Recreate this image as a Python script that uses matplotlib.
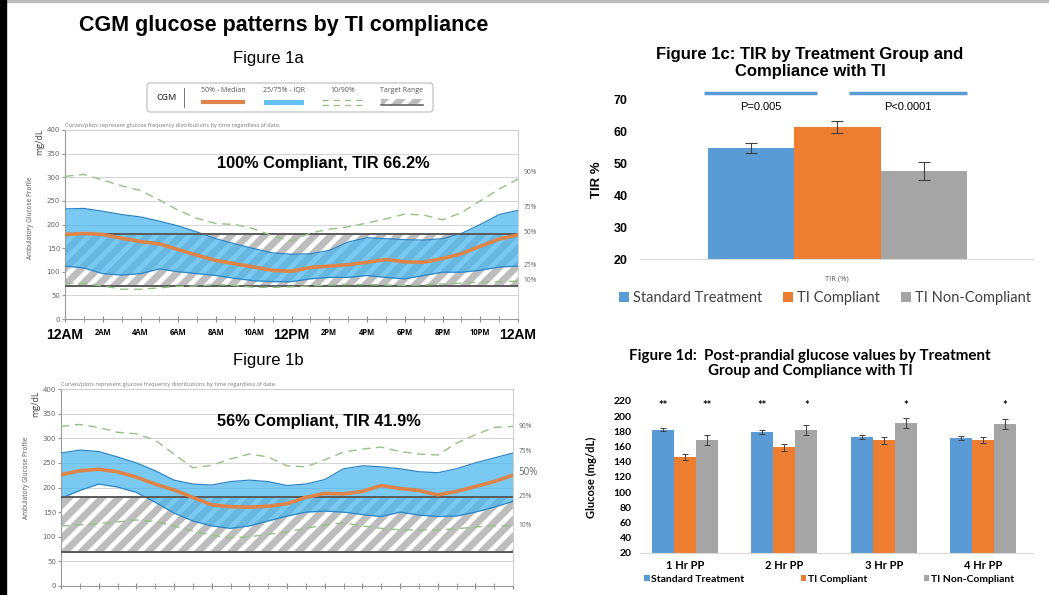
#!/usr/bin/env python3
"""CGM glucose patterns by TI compliance: AGP panels plus two bar charts."""
import matplotlib
matplotlib.use('Agg')
import matplotlib.pyplot as plt
import numpy as np
from matplotlib.patches import FancyBboxPatch, Rectangle
from matplotlib.lines import Line2D

W, H = 1049, 595

# Figure 1a / 1b: hourly percentiles of glucose (mg/dL), midnight to midnight.
hours = np.arange(25)
hour_labels = ['12AM', '2AM', '4AM', '6AM', '8AM', '10AM', '12PM',
               '2PM', '4PM', '6PM', '8PM', '10PM', '12AM']

a_p90 = [302, 306, 294, 282, 272, 252, 230, 213, 202, 200, 191, 176, 165,
         182, 190, 195, 203, 212, 222, 220, 210, 225, 250, 275, 296]
a_p75 = [233, 234, 228, 221, 216, 207, 197, 184, 170, 159, 149, 140, 137,
         138, 145, 163, 172, 170, 168, 167, 170, 181, 200, 221, 230]
a_p50 = [179, 181, 179, 171, 164, 159, 147, 135, 124, 117, 110, 103, 101,
         109, 112, 115, 120, 126, 121, 120, 128, 138, 154, 169, 178]
a_p25 = [112, 108, 96, 93, 96, 106, 100, 96, 92, 86, 81, 79, 79,
         85, 88, 88, 92, 88, 85, 92, 99, 99, 103, 110, 112]
a_p10 = [76, 75, 70, 63, 63, 66, 69, 70, 73, 71, 67, 67, 68,
         70, 72, 73, 73, 72, 71, 72, 74, 76, 78, 79, 80]

b_p90 = [324, 328, 322, 312, 309, 296, 268, 240, 245, 258, 268, 262, 244,
         242, 256, 272, 278, 282, 273, 268, 266, 290, 307, 322, 324]
b_p75 = [270, 276, 273, 262, 250, 234, 215, 207, 205, 212, 215, 212, 204,
         207, 216, 238, 244, 242, 238, 232, 230, 238, 250, 260, 270]
b_p50 = [226, 234, 237, 232, 221, 207, 195, 180, 165, 161, 160, 162, 167,
         180, 188, 187, 192, 204, 198, 194, 185, 192, 202, 212, 225]
b_p25 = [178, 194, 207, 201, 190, 170, 148, 132, 122, 117, 122, 132, 142,
         150, 152, 150, 145, 141, 150, 144, 141, 142, 150, 160, 172]
b_p10 = [122, 124, 127, 130, 134, 131, 122, 112, 103, 98, 100, 105, 110,
         117, 124, 128, 122, 117, 114, 114, 114, 116, 120, 122, 122]

target_low, target_high = 70, 180
pct_names = ['90%', '75%', '50%', '25%', '10%']
a_pct_y = [310, 236, 183, 114, 82]
b_pct_y = [323, 274, 231, 181, 122]

# Figure 1c: time in range by group.
groups = ['Standard Treatment', 'TI Compliant', 'TI Non-Compliant']
tir = [54.7, 61.3, 47.7]
tir_err = [1.5, 1.9, 2.8]
p_labels = ['P=0.005', 'P<0.0001']

# Figure 1d: post-prandial glucose by group.
pp_times = ['1 Hr PP', '2 Hr PP', '3 Hr PP', '4 Hr PP']
pp_standard = [181.8, 178.7, 173.0, 171.2]
pp_compliant = [145.7, 158.9, 168.1, 168.1]
pp_noncompliant = [168.6, 181.8, 191.0, 189.7]
pp_err_standard = [2.0, 2.6, 2.6, 3.0]
pp_err_compliant = [4.0, 5.0, 4.6, 4.0]
pp_err_noncompliant = [6.5, 7.0, 6.8, 6.0]
pp_stars = [['**', '', '**'], ['**', '', '*'], ['', '', '*'], ['', '', '*']]

BLUE, ORANGE, GRAY = '#5B9BD5', '#ED7D31', '#A5A5A5'
IQR, IQR_EDGE = '#47B5EE', '#2E86C8'
MEDIAN, DASH = '#DE8449', '#93C285'
HATCH = '#bdbdbd'
ARIAL, SANS, CALIBRI = 'Liberation Sans', 'Open Sans', 'Lato'

plt.rcParams['hatch.linewidth'] = 5.0
plt.rcParams['hatch.color'] = HATCH


def px_axes(fig, left, top, right, bottom):
    """Add axes from pixel edges measured from the top-left corner."""
    return fig.add_axes([left / W, 1 - bottom / H,
                         (right - left) / W, (bottom - top) / H])


def agp_panel(ax, p10, p25, p50, p75, p90, note, note_y, pct_y, big50):
    ax.set_xlim(0, 24)
    ax.set_ylim(0, 400)
    for y in range(50, 400, 50):
        ax.axhline(y, color='#d4d4d4', lw=0.7, zorder=0)
    ax.fill_between([0, 24], target_low, target_high, facecolor='white',
                    edgecolor=HATCH, hatch='//', linewidth=0, zorder=1)
    ax.fill_between(hours, p25, p75, color=IQR, alpha=0.72, lw=0, zorder=2)
    ax.plot(hours, p25, color=IQR_EDGE, lw=0.9, zorder=3)
    ax.plot(hours, p75, color=IQR_EDGE, lw=0.9, zorder=3)
    for y in (target_low, target_high):
        ax.axhline(y, color='#5a5a5a', lw=1.4, zorder=4)
    for p in (p10, p90):
        ax.plot(hours, p, color=DASH, lw=1.0, dashes=(6, 4), zorder=4)
    ax.plot(hours, p50, color=MEDIAN, lw=2.6, zorder=5)

    ax.text(13.7, note_y, note, ha='center', va='center', fontsize=11.8,
            fontweight='bold', family=ARIAL, zorder=6)
    for name, y in zip(pct_names, pct_y):
        size = 7 if (big50 and name == '50%') else 4.8
        ax.text(1.012, y, name, transform=ax.get_yaxis_transform(),
                va='center', ha='left', fontsize=size, color='#666666',
                family=SANS)

    ax.set_yticks(range(0, 401, 50))
    ax.tick_params(axis='y', labelsize=5, labelcolor='#666666',
                   color='#999999', length=2, pad=1.5)
    ax.set_xticks(range(0, 25, 2))
    ax.set_xticks(hours, minor=True)
    ax.set_xticklabels(hour_labels)
    ax.tick_params(axis='x', which='both', direction='inout', length=5,
                   color='#888888', pad=4)
    for i, lab in enumerate(ax.get_xticklabels()):
        big = i in (0, 6, 12)
        lab.set_fontsize(10 if big else 5.5)
        lab.set_fontweight('bold')
        lab.set_family(ARIAL if big else SANS)
    for side in ('left', 'bottom'):
        ax.spines[side].set_color('#999999')
    for side in ('top', 'right'):
        ax.spines[side].set_color('#cfcfcf')
    ax.text(0, 1.012, 'Curves/plots represent glucose frequency distributions '
            'by time regardless of date.', transform=ax.transAxes,
            fontsize=4.1, color='#777777', family=SANS, va='bottom')


fig = plt.figure(figsize=(W / 100, H / 100), dpi=100)
fig.patches.append(Rectangle((0, 0), 6 / W, 1, transform=fig.transFigure,
                             color='black', zorder=10))
fig.patches.append(Rectangle((0, 1 - 2 / H), 1, 2 / H,
                             transform=fig.transFigure, color='#bbbbbb'))

fig.text(284 / W, 1 - 25 / H, 'CGM glucose patterns by TI compliance',
         ha='center', va='center', fontsize=15.5, fontweight='bold',
         family=ARIAL)
fig.text(268 / W, 1 - 58 / H, 'Figure 1a', ha='center', va='center',
         fontsize=12, family=ARIAL)
fig.text(268 / W, 1 - 360 / H, 'Figure 1b', ha='center', va='center',
         fontsize=12, family=ARIAL)

# AGP legend box
lg = px_axes(fig, 146, 82, 434, 113)
lg.set_xlim(146, 434)
lg.set_ylim(113, 82)
lg.axis('off')
lg.add_patch(FancyBboxPatch((147, 83), 286, 29,
                            boxstyle='round,pad=0,rounding_size=3',
                            facecolor='white', edgecolor='#bbbbbb', lw=0.8))
lg.text(167, 97.5, 'CGM', ha='center', va='center', fontsize=6.5,
        fontweight='semibold', color='#444444', family=SANS)
lg.add_line(Line2D([184, 184], [88, 107], color='#777777', lw=0.7))
for x, name in zip([223, 284, 343, 401],
                   ['50% - Median', '25/75% - IQR', '10/90%', 'Target Range']):
    lg.text(x, 90.5, name, ha='center', va='center', fontsize=5,
            color='#555555', family=SANS)
lg.add_line(Line2D([203, 243], [102, 102], color=MEDIAN, lw=3))
lg.add_patch(Rectangle((264, 99.5), 40, 5.5, color=IQR, alpha=0.85, lw=0))
for y in (99.5, 105):
    lg.add_line(Line2D([322, 364], [y, y], color=DASH, lw=0.9,
                       dashes=(5, 4)))
lg.add_patch(Rectangle((381, 99), 42, 6, facecolor='white', edgecolor=HATCH,
                       hatch='//', lw=0))
lg.add_line(Line2D([381, 423], [105, 105], color='#666666', lw=1.2))

ax_a = px_axes(fig, 65, 130, 518, 319)
agp_panel(ax_a, a_p10, a_p25, a_p50, a_p75, a_p90,
          '100% Compliant, TIR 66.2%', 329, a_pct_y, False)
ax_b = px_axes(fig, 61, 389, 513, 586)
agp_panel(ax_b, b_p10, b_p25, b_p50, b_p75, b_p90,
          '56% Compliant, TIR 41.9%', 333, b_pct_y, True)
for ax, y_mg, y_agp, x_mg, x_agp in ((ax_a, 142, 218, 40, 31),
                                     (ax_b, 404, 478, 36, 27)):
    fig.text(x_mg / W, 1 - y_mg / H, 'mg/dL', rotation=90, ha='center',
             va='center', fontsize=6.5, color='#444444', family=SANS)
    fig.text(x_agp / W, 1 - y_agp / H, 'Ambulatory Glucose Profile',
             rotation=90, ha='center', va='center', fontsize=4.7,
             color='#555555', family=SANS)

# Figure 1c
fig.text(810 / W, 1 - 63 / H, 'Figure 1c: TIR by Treatment Group and\n'
         'Compliance with TI', ha='center', va='center', fontsize=12,
         fontweight='bold', family=ARIAL, linespacing=1.15)
ax_c = px_axes(fig, 640, 99.3, 1033, 259.3)
xc = np.arange(len(groups)) - 1
bars_c = ax_c.bar(xc, tir, width=1.0, color=[BLUE, ORANGE, GRAY],
                  yerr=tir_err, capsize=4,
                  error_kw=dict(ecolor='#404040', elinewidth=0.8,
                                capthick=0.8))
ax_c.set_xlim(-2.28, 2.26)
ax_c.set_ylim(20, 70)
ax_c.set_yticks(range(20, 71, 10))
ax_c.set_xticks([0])
ax_c.set_xticklabels(['TIR (%)'], fontsize=5.5, color='#595959',
                     family=SANS)
ax_c.tick_params(axis='x', length=0, pad=12)
ax_c.tick_params(axis='y', length=0, pad=9, labelsize=9)
for lab in ax_c.get_yticklabels():
    lab.set_fontweight('bold')
    lab.set_family(ARIAL)
ax_c.set_ylabel('TIR %', fontsize=9.5, fontweight='bold', family=ARIAL)
ax_c.yaxis.set_label_coords(-0.094, 0.5)
for side in ('left', 'top', 'right'):
    ax_c.spines[side].set_visible(False)
ax_c.spines['bottom'].set_color('#d9d9d9')
for (x0, x1), label in zip([(xc[0] - 0.54, xc[1] - 0.23),
                            (xc[1] + 0.13, xc[2] + 0.50)], p_labels):
    ax_c.plot([x0, x1], [72.06, 72.06], color=BLUE, lw=2.5, clip_on=False,
              solid_capstyle='butt')
    ax_c.text((x0 + x1) / 2, 67.7, label, ha='center', va='center',
              fontsize=8, family=ARIAL)
leg_c = ax_c.legend(bars_c.patches, groups, loc='center',
                    bbox_to_anchor=(825 / W, 1 - 298 / H),
                    bbox_transform=fig.transFigure, ncol=3, frameon=False,
                    handlelength=0.7, handleheight=0.7, handletextpad=0.3,
                    columnspacing=1.4, borderaxespad=0,
                    prop=dict(family=CALIBRI, size=10.5))
for t in leg_c.get_texts():
    t.set_color('#404040')

# Figure 1d
fig.text(810 / W, 1 - 363.5 / H,
         'Figure 1d:  Post-prandial glucose values by Treatment\n'
         'Group and Compliance with TI', ha='center', va='center',
         fontsize=10.9, fontweight='bold', family=CALIBRI, linespacing=1.15)
ax_d = px_axes(fig, 640, 401, 1033, 552.7)
xd = np.arange(len(pp_times))
bw = 0.221
series = [(pp_standard, pp_err_standard, BLUE),
          (pp_compliant, pp_err_compliant, ORANGE),
          (pp_noncompliant, pp_err_noncompliant, GRAY)]
bars_d = []
for k, (vals, errs, color) in enumerate(series):
    b = ax_d.bar(xd + (k - 1) * bw, vals, width=bw, color=color, yerr=errs,
                 capsize=2.5, error_kw=dict(ecolor='#404040', elinewidth=0.7,
                                            capthick=0.7))
    bars_d.append(b)
for i, marks in enumerate(pp_stars):
    for k, mark in enumerate(marks):
        if mark:
            ax_d.text(xd[i] + (k - 1) * bw, 214.7, mark, ha='center',
                      va='center', fontsize=8, fontweight='bold',
                      family=CALIBRI)
ax_d.set_xlim(-0.452, 3.5)
ax_d.set_ylim(20, 220)
ax_d.set_yticks(range(20, 221, 20))
ax_d.set_xticks(xd)
ax_d.set_xticklabels(pp_times)
ax_d.tick_params(axis='both', length=0, labelsize=7.5)
ax_d.tick_params(axis='x', pad=5, labelsize=8)
ax_d.tick_params(axis='y', pad=6)
for lab in ax_d.get_xticklabels() + ax_d.get_yticklabels():
    lab.set_fontweight('bold')
    lab.set_family(CALIBRI)
ax_d.set_ylabel('Glucose (mg/dL)', fontsize=8, fontweight='bold',
                family=CALIBRI)
ax_d.yaxis.set_label_coords(-0.109, 0.5)
for side in ('left', 'top', 'right'):
    ax_d.spines[side].set_visible(False)
ax_d.spines['bottom'].set_color('#d9d9d9')
ax_d.legend([b.patches[0] for b in bars_d], groups, loc='center',
            bbox_to_anchor=(829 / W, 1 - 579 / H),
            bbox_transform=fig.transFigure, ncol=3, frameon=False,
            handlelength=0.55, handleheight=0.55, handletextpad=0.15,
            columnspacing=5.4, borderaxespad=0,
            prop=dict(family=CALIBRI, size=7.5, weight='bold'))

fig.savefig('out.png', dpi=100)
